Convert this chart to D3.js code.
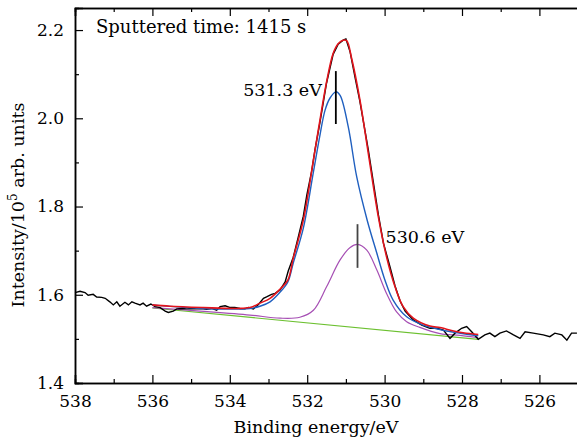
<!DOCTYPE html>
<html>
<head>
<meta charset="utf-8">
<script src="https://cdn.jsdelivr.net/npm/d3@7"></script>
<style>
  body { margin: 0; background: #fff; }
  text { font-family: "DejaVu Serif", serif; fill: #000; }
</style>
</head>
<body>
<script>
var width = 577,
    height = 441;

// binding energy (eV), intensity (10^5 arb. units)
var measured = [
  [538.00,1.605],[537.87,1.608],[537.74,1.605],[537.66,1.599],[537.53,1.601],[537.44,1.595],
  [537.31,1.594],[537.22,1.592],[537.10,1.584],[537.01,1.577],[536.92,1.584],[536.84,1.574],
  [536.71,1.583],[536.62,1.577],[536.53,1.584],[536.45,1.581],[536.32,1.577],[536.24,1.581],
  [536.15,1.574],[536.04,1.579],[535.93,1.573],[535.80,1.571],[535.67,1.563],[535.59,1.560],
  [535.46,1.563],[535.37,1.568],[535.24,1.569],[535.11,1.568],[534.98,1.569],[534.86,1.568],
  [534.73,1.569],[534.60,1.567],[534.47,1.569],[534.34,1.565],[534.25,1.573],[534.12,1.575],
  [533.99,1.571],[533.87,1.571],[533.74,1.569],[533.61,1.568],[533.52,1.571],[533.39,1.568],
  [533.26,1.578],[533.13,1.592],[533.05,1.595],[532.92,1.601],[532.83,1.603],[532.70,1.611],
  [532.57,1.629],[532.49,1.654],[532.36,1.685],[532.23,1.731],[532.10,1.778],[532.01,1.826],
  [531.88,1.882],[531.80,1.928],[531.67,1.991],[531.50,2.080],[531.33,2.145],[531.20,2.168],
  [531.07,2.177],[531.00,2.180],[530.89,2.150],[530.76,2.091],[530.64,2.039],[530.42,1.928],
  [530.16,1.781],[530.03,1.717],[529.86,1.663],[529.73,1.620],[529.60,1.586],[529.47,1.563],
  [529.26,1.543],[529.04,1.531],[528.83,1.524],[528.65,1.524],[528.48,1.520],[528.31,1.501],
  [528.18,1.513],[528.01,1.524],[527.88,1.528],[527.75,1.516],[527.58,1.499],[527.41,1.509],
  [527.28,1.513],[527.15,1.505],[527.02,1.513],[526.85,1.518],[526.67,1.509],[526.50,1.501],
  [526.37,1.516],[526.16,1.513],[525.90,1.509],[525.73,1.505],[525.60,1.513],[525.42,1.509],
  [525.29,1.497],[525.17,1.513],[525.03,1.513]
];

var envelope = [
  [536.00,1.577],[535.55,1.574],[534.69,1.571],[533.82,1.569],[533.48,1.571],[533.22,1.581],
  [532.96,1.592],[532.70,1.613],[532.50,1.633],[532.36,1.683],[532.10,1.769],[531.84,1.905],
  [531.67,1.996],[531.50,2.082],[531.33,2.147],[531.20,2.169],[531.07,2.177],[530.98,2.176],
  [530.85,2.135],[530.64,2.043],[530.42,1.920],[530.16,1.776],[529.95,1.686],[529.73,1.618],
  [529.52,1.573],[529.26,1.547],[528.83,1.529],[528.57,1.526],[528.40,1.522],[527.97,1.514],
  [527.58,1.510]
];

var peak5313 = [
  [536.00,1.577],[534.77,1.569],[533.48,1.569],[533.22,1.574],[532.96,1.584],[532.70,1.606],
  [532.50,1.629],[532.36,1.672],[532.10,1.751],[531.84,1.878],[531.67,1.962],[531.54,2.018],
  [531.41,2.046],[531.26,2.060],[531.15,2.052],[530.94,1.981],[530.72,1.867],[530.45,1.769],
  [530.20,1.694],[529.99,1.633],[529.78,1.588],[529.43,1.550],[529.00,1.531],[528.57,1.521],
  [528.40,1.518],[527.58,1.507]
];

var peak5306 = [
  [536.00,1.571],[534.77,1.563],[533.48,1.554],[532.70,1.547],[532.19,1.549],[531.84,1.565],
  [531.50,1.618],[531.15,1.679],[530.89,1.707],[530.70,1.714],[530.46,1.701],[530.20,1.656],
  [529.95,1.603],[529.69,1.561],[529.43,1.539],[529.09,1.526],[528.57,1.512],[528.05,1.508],
  [527.58,1.503]
];

var background = [[536.00,1.570],[527.58,1.499]];

var xTicks = [538, 536, 534, 532, 530, 528, 526];
var yTicks = [1.4, 1.6, 1.8, 2.0, 2.2];

var peakLabels = [
  {energy: 531.26, top: 2.107, bottom: 1.987, text: "531.3 eV", color: "#000"},
  {energy: 530.70, top: 1.760, bottom: 1.661, text: "530.6 eV", color: "#444"}
];

var margin = {left: 75, top: 8, bottom: 58};

var x = d3.scaleLinear().domain([538, 525]).range([margin.left, 578.1]);
var y = d3.scaleLinear().domain([1.4, 2.25]).range([383, margin.top]);

var svg = d3.select("body").append("svg")
    .attr("width", width)
    .attr("height", height);

var line = d3.line()
    .x(d => x(d[0]))
    .y(d => y(d[1]));

var smooth = d3.line()
    .x(d => x(d[0]))
    .y(d => y(d[1]))
    .curve(d3.curveCatmullRom);

// curves
svg.append("path").datum(background)
    .attr("d", line)
    .style("fill", "none").style("stroke", "#6cc030").style("stroke-width", 1.2);

svg.append("path").datum(peak5306)
    .attr("d", smooth)
    .style("fill", "none").style("stroke", "#a64fb4").style("stroke-width", 1.2);

svg.append("path").datum(measured)
    .attr("d", line)
    .style("fill", "none").style("stroke", "#000").style("stroke-width", 1.4);

svg.append("path").datum(peak5313)
    .attr("d", smooth)
    .style("fill", "none").style("stroke", "#1f5fbf").style("stroke-width", 1.4);

svg.append("path").datum(envelope)
    .attr("d", smooth)
    .style("fill", "none").style("stroke", "#e3141c").style("stroke-width", 1.6);

// peak markers
peakLabels.forEach(function(p) {
    svg.append("line")
        .attr("x1", x(p.energy)).attr("x2", x(p.energy))
        .attr("y1", y(p.top)).attr("y2", y(p.bottom))
        .style("stroke", p.color).style("stroke-width", 1.8);
});

svg.append("text")
    .attr("x", x(peakLabels[0].energy) - 14)
    .attr("y", 96)
    .attr("text-anchor", "end")
    .style("font-size", "17.5px")
    .text(peakLabels[0].text);

svg.append("text")
    .attr("x", x(peakLabels[1].energy) + 28)
    .attr("y", 243)
    .style("font-size", "17.5px")
    .text(peakLabels[1].text);

// axes (inward ticks)
var xAxisB = d3.axisBottom(x).tickValues(xTicks).tickSize(-8).tickPadding(12).tickFormat(d3.format("d"));
var xMinor = d3.range(525, 539, 1).filter(v => v % 2 !== 0);

var gx = svg.append("g").attr("transform", "translate(0,383)").call(xAxisB);
gx.append("g").call(d3.axisBottom(x).tickValues(xMinor).tickSize(-4).tickFormat(""));

var gxTop = svg.append("g").attr("transform", "translate(0," + margin.top + ")");
gxTop.call(d3.axisTop(x).tickValues(xTicks).tickSize(-8).tickFormat(""));
gxTop.append("g").call(d3.axisTop(x).tickValues(xMinor).tickSize(-4).tickFormat(""));

var yMinor = [1.5, 1.7, 1.9, 2.1];
var gy = svg.append("g").attr("transform", "translate(" + margin.left + ",0)")
    .call(d3.axisLeft(y).tickValues(yTicks).tickSize(-8).tickPadding(11).tickFormat(d3.format(".1f")));
gy.append("g").call(d3.axisLeft(y).tickValues(yMinor).tickSize(-4).tickFormat(""));

svg.selectAll(".domain").style("stroke", "#000").style("stroke-width", 1.5);
svg.selectAll(".tick line").style("stroke", "#000").style("stroke-width", 1.2);
svg.selectAll(".tick text")
    .style("font-family", "DejaVu Serif, serif")
    .style("font-size", "17px")
    .style("fill", "#000");

// axis titles
svg.append("text")
    .attr("x", 316)
    .attr("y", 433)
    .attr("text-anchor", "middle")
    .style("font-size", "17.5px")
    .text("Binding energy/eV");

var yTitle = svg.append("text")
    .attr("transform", "translate(24,205) rotate(-90)")
    .attr("text-anchor", "middle")
    .style("font-size", "17.5px");
yTitle.append("tspan").text("Intensity/10");
yTitle.append("tspan").attr("dy", -7).style("font-size", "12px").text("5");
yTitle.append("tspan").attr("dy", 7).text(" arb. units");

svg.append("text")
    .attr("x", 96)
    .attr("y", 33)
    .style("font-size", "18px")
    .text("Sputtered time: 1415 s");
</script>
</body>
</html>
